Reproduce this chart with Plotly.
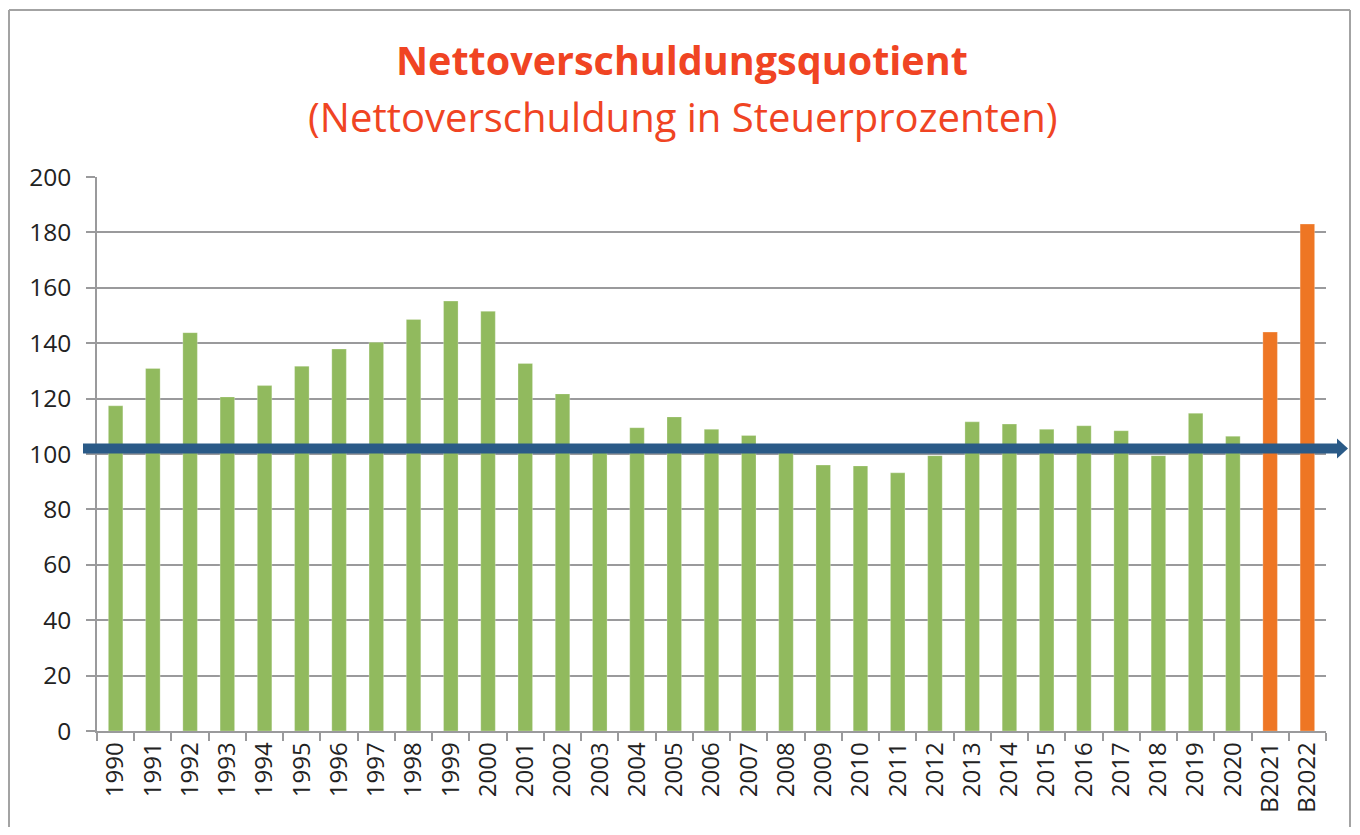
import plotly.graph_objects as go

categories = [str(y) for y in range(1990, 2021)] + ["B2021", "B2022"]
values = [117.4, 130.9, 143.8, 120.6, 124.7, 131.7, 137.9, 140.3, 148.6, 155.2,
          151.5, 132.7, 121.7, 101.0, 109.5, 113.4, 108.9, 106.7, 101.0, 96.0,
          95.7, 93.2, 99.4, 111.6, 110.8, 108.9, 110.2, 108.4, 99.4, 114.7,
          106.4, 144.0, 183.0]
bar_colors = ["#91BA5E"] * 31 + ["#EE7624"] * 2
y_ticks = [0, 20, 40, 60, 80, 100, 120, 140, 160, 180, 200]
reference_level = 102

# page body has an 8px margin; compensate so the figure lands on the reference pixels
OFF = 8
W, H = 1360 - 2 * OFF, 835 - 2 * OFF

def sx(p):
    return p - OFF

L, R, T, B = sx(97), W - sx(1326), sx(177), H - sx(731)
pw, ph = W - L - R, H - T - B

def px_x(p):
    return (sx(p) - L) / pw

def px_y(p):
    return (H - B - sx(p)) / ph

fig = go.Figure()
fig.add_trace(go.Bar(
    x=categories, y=values,
    marker=dict(color=bar_colors, line=dict(color="rgba(255,255,255,0.5)", width=0.5)),
    width=0.39,
))

grey = "#9A9A9C"
fig.update_layout(
    width=W, height=H,
    margin=dict(l=L, r=R, t=T, b=B, pad=0),
    plot_bgcolor="white", paper_bgcolor="white",
    showlegend=False,
    font=dict(family="Open Sans", color="#222222"),
    xaxis=dict(
        type="category", tickangle=-90, tickson="boundaries",
        ticks="outside", ticklen=8, tickcolor=grey, tickwidth=1.5,
        showline=True, linecolor=grey, linewidth=1.5,
        showgrid=False, tickfont=dict(size=24, family="Open Sans", color="#222222"),
    ),
    yaxis=dict(
        range=[0, 200], tickvals=y_ticks, ticks="outside", ticklen=9,
        tickcolor=grey, tickwidth=1.5, showline=True, linecolor=grey, linewidth=1.5,
        showgrid=True, gridcolor=grey, gridwidth=1.5, zeroline=False,
        tickfont=dict(size=24.5, family="Open Sans", color="#222222"),
        ticklabelstandoff=10,
    ),
)

# outer frame (left, top, right edges)
frame = dict(color="#A3A3A3", width=2)
fx0, fx1, fy_top, fy_bot = px_x(9), px_x(1350), px_y(10), px_y(840)
for x0, y0, x1, y1 in [(fx0, fy_bot, fx0, fy_top), (fx0, fy_top, fx1, fy_top), (fx1, fy_top, fx1, fy_bot)]:
    fig.add_shape(type="line", xref="paper", yref="paper", x0=x0, y0=y0, x1=x1, y1=y1,
                  line=frame, layer="above")

# reference arrow
half = 10 / ph * 200
fig.add_shape(type="line", xref="paper", yref="y",
              x0=px_x(83), x1=px_x(1339), y0=reference_level, y1=reference_level,
              line=dict(color="#2A5A87", width=10))
x_a, x_b = px_x(1337), px_x(1348)
fig.add_shape(type="path", xref="paper", yref="y",
              path=f"M {x_a},{reference_level - half} L {x_b},{reference_level} L {x_a},{reference_level + half} Z",
              fillcolor="#2A5A87", line=dict(color="#2A5A87", width=0))

title_x = px_x(682)
fig.add_annotation(text="<b>Nettoverschuldungsquotient</b>", xref="paper", yref="paper",
                   x=title_x, y=px_y(60), xanchor="center", yanchor="middle", showarrow=False,
                   font=dict(size=39.5, family="Open Sans", color="#F04423"))
fig.add_annotation(text="(Nettoverschuldung in Steuerprozenten)", xref="paper", yref="paper",
                   x=title_x, y=px_y(116), xanchor="center", yanchor="middle", showarrow=False,
                   font=dict(size=40, family="Open Sans", color="#F04423"))

fig.write_html("out.html")
